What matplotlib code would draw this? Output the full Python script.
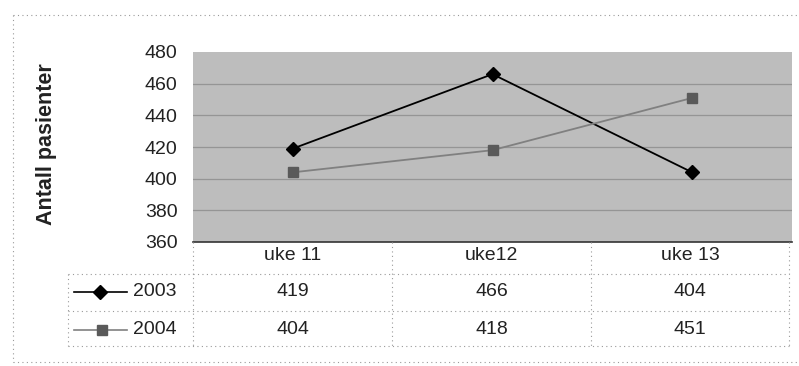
import numpy as np
import matplotlib.pyplot as plt
from matplotlib.lines import Line2D

plt.rcParams['font.family'] = ['Liberation Sans', 'DejaVu Sans']

weeks = ['uke 11', 'uke12', 'uke 13']
years = ['2003', '2004']
pat_2003 = [419, 466, 404]
pat_2004 = [404, 418, 451]
yticks = [360, 380, 400, 420, 440, 460, 480]

W, H = 799, 366
fig = plt.figure(figsize=(W / 100, H / 100), dpi=100)

def fx(px):
    return px / W

def fy(py):
    return 1 - py / H

ax = fig.add_axes([fx(193), fy(242), fx(792) - fx(193), fy(52) - fy(242)])
ax.set_facecolor('#bdbdbd')
x = np.arange(len(weeks))

for v in yticks[1:-1]:
    ax.axhline(v, color='#959595', lw=0.9, zorder=1)

ax.plot(x, pat_2003, color='black', lw=1.3, marker='D', ms=7, zorder=3)
ax.plot(x, pat_2004, color='#808080', lw=1.3, marker='s', ms=7,
        markerfacecolor='#5a5a5a', markeredgecolor='#5a5a5a', zorder=3)

ax.set_xlim(-0.5, 2.5)
ax.set_ylim(360, 480)
ax.set_yticks(yticks)
ax.set_xticks([])
ax.tick_params(axis='y', length=0, labelsize=14, pad=11, colors='#222222')
for s in ['top', 'right', 'left']:
    ax.spines[s].set_visible(False)
ax.spines['bottom'].set_color('#333333')
ax.spines['bottom'].set_linewidth(1.2)

fig.text(fx(47), fy(144), 'Antall pasienter', rotation=90, fontsize=15.5,
         fontweight='bold', ha='center', va='center', color='#222222')

# data table under the plot
col_edges = [193, 392, 591, 789]
row_y = {'head': 256, '2003': 292, '2004': 330}
dot = dict(color='#9a9a9a', lw=0.8, ls=(0, (1, 3)))

def hline(x0, x1, y):
    fig.add_artist(Line2D([fx(x0), fx(x1)], [fy(y), fy(y)], **dot))

def vline(xp, y0, y1):
    fig.add_artist(Line2D([fx(xp), fx(xp)], [fy(y0), fy(y1)], **dot))

hline(193, 789, 274)
hline(68, 789, 311)
hline(68, 789, 346)
hline(68, 193, 274)
vline(68, 274, 346)
for c in col_edges:
    vline(c, 242, 346)

for i, w in enumerate(weeks):
    cx = (col_edges[i] + col_edges[i + 1]) / 2
    fig.text(fx(cx), fy(row_y['head']), w, fontsize=14, ha='center', va='center', color='#222222')
    fig.text(fx(cx), fy(row_y['2003']), str(pat_2003[i]), fontsize=14, ha='center', va='center', color='#222222')
    fig.text(fx(cx), fy(row_y['2004']), str(pat_2004[i]), fontsize=14, ha='center', va='center', color='#222222')

# legend keys in the table
fig.add_artist(Line2D([fx(74), fx(127)], [fy(292)] * 2, color='black', lw=1.2))
fig.add_artist(Line2D([fx(100)], [fy(292)], color='black', marker='D', ms=7))
fig.add_artist(Line2D([fx(74), fx(127)], [fy(330)] * 2, color='#808080', lw=1.2))
fig.add_artist(Line2D([fx(102)], [fy(330)], color='#5a5a5a', marker='s', ms=7))
fig.text(fx(133), fy(row_y['2003']), years[0], fontsize=14, ha='left', va='center', color='#222222')
fig.text(fx(133), fy(row_y['2004']), years[1], fontsize=14, ha='left', va='center', color='#222222')

# chart frame
hline(13, 797, 15)
hline(13, 797, 362)
vline(13, 15, 362)

fig.savefig('out.png', dpi=100)
